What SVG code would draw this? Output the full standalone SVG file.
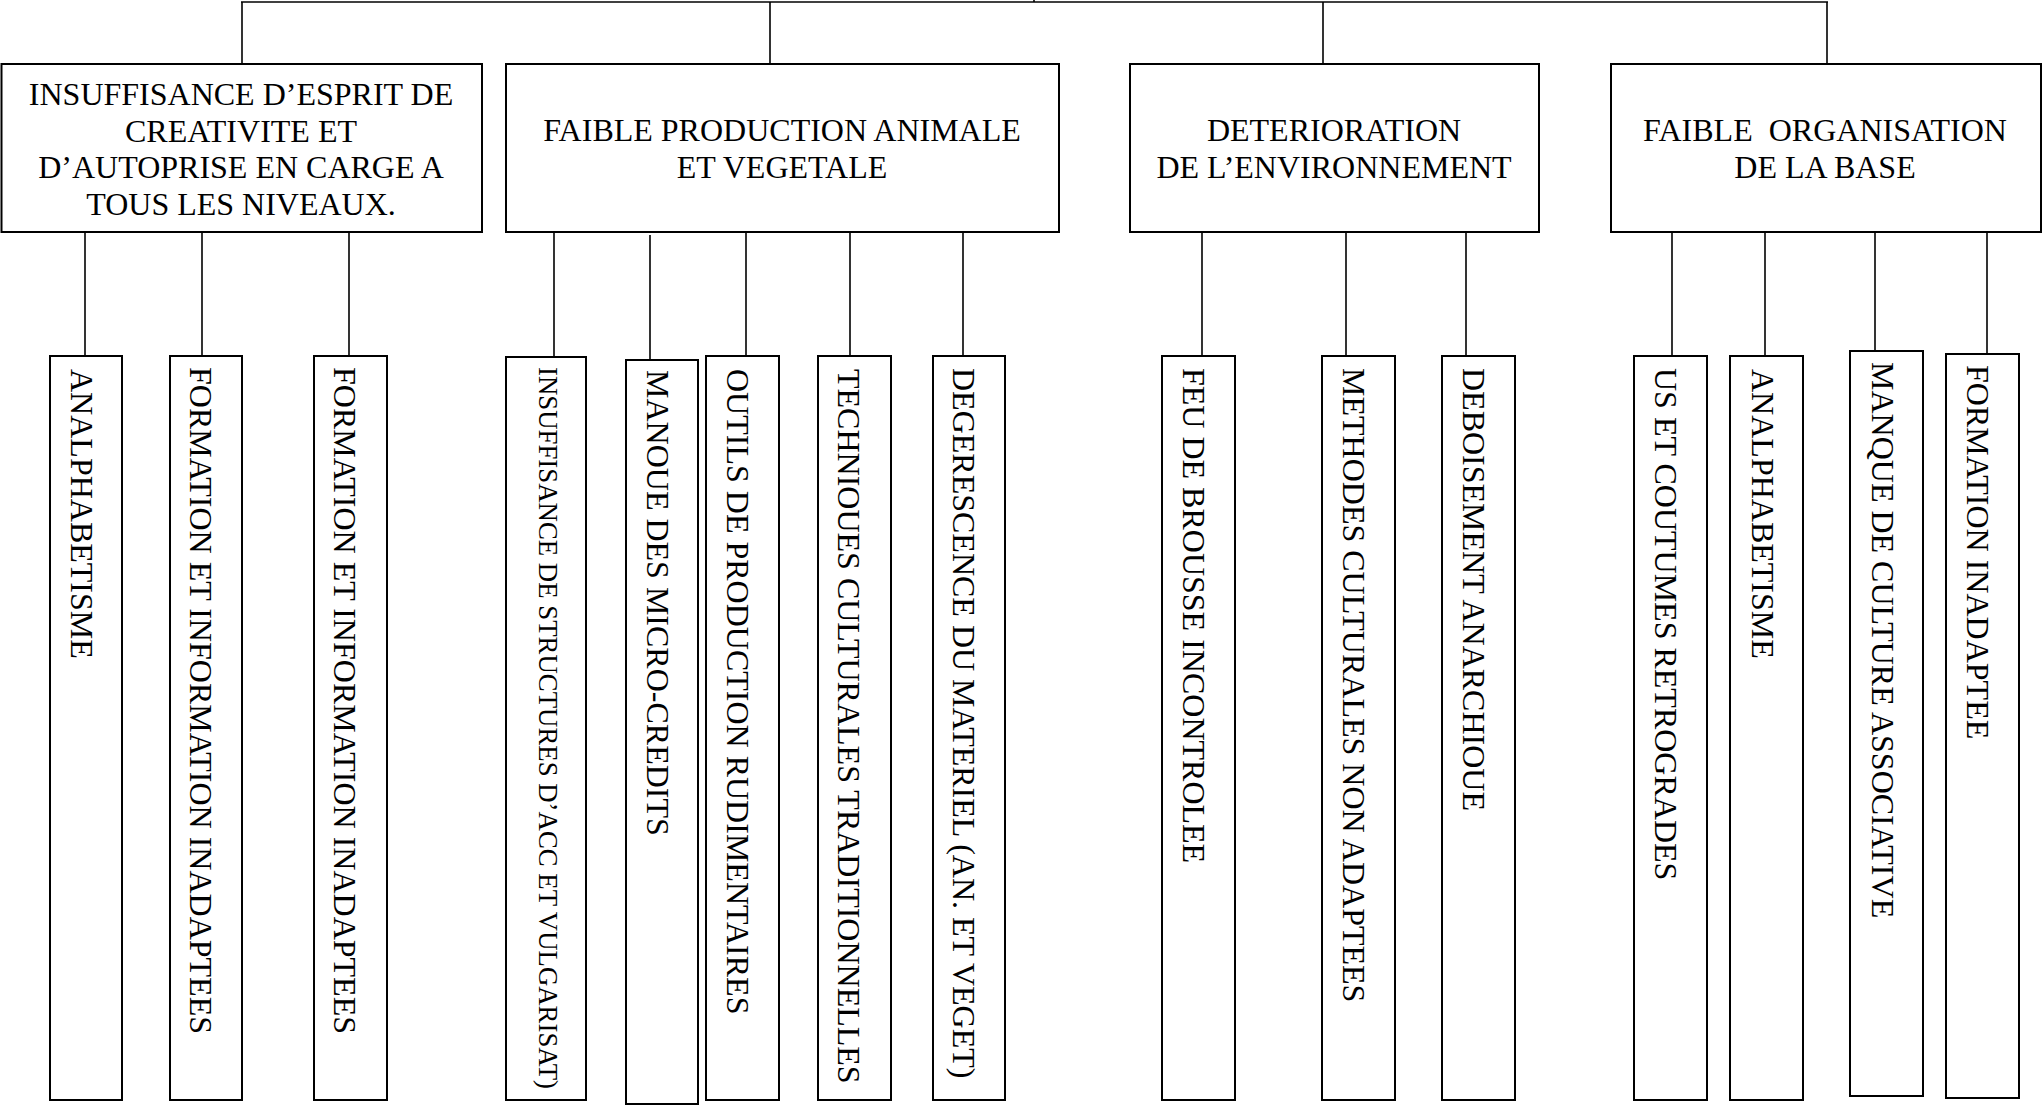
<svg xmlns="http://www.w3.org/2000/svg" width="2043" height="1105" viewBox="0 0 2043 1105">
<style>
  .box { fill: #ffffff; stroke: #000000; stroke-width: 2; }
  .conn { stroke: #000000; stroke-width: 1.6; fill: none; }
  .t { font-family: "Liberation Serif", "Times New Roman", serif; font-size: 32px; fill: #000000; }
  .c { text-anchor: middle; }
  .pre { white-space: pre; }
</style>
<rect width="2043" height="1105" fill="#ffffff"/>

<g id="connectors">
  <line class="conn" x1="1034" y1="0" x2="1034" y2="2"/>
  <line class="conn" x1="241" y1="2" x2="1828" y2="2"/>
  <line class="conn" x1="242" y1="2" x2="242" y2="64"/>
  <line class="conn" x1="770" y1="2" x2="770" y2="64"/>
  <line class="conn" x1="1323" y1="2" x2="1323" y2="64"/>
  <line class="conn" x1="1827" y1="2" x2="1827" y2="64"/>

  <line class="conn" x1="85" y1="232" x2="85" y2="356"/>
  <line class="conn" x1="202" y1="232" x2="202" y2="356"/>
  <line class="conn" x1="349" y1="232" x2="349" y2="356"/>

  <line class="conn" x1="554" y1="232" x2="554" y2="357"/>
  <line class="conn" x1="650" y1="235" x2="650" y2="360"/>
  <line class="conn" x1="746" y1="232" x2="746" y2="356"/>
  <line class="conn" x1="850" y1="232" x2="850" y2="356"/>
  <line class="conn" x1="963" y1="232" x2="963" y2="356"/>

  <line class="conn" x1="1202" y1="232" x2="1202" y2="356"/>
  <line class="conn" x1="1346" y1="232" x2="1346" y2="356"/>
  <line class="conn" x1="1466" y1="232" x2="1466" y2="356"/>

  <line class="conn" x1="1672" y1="232" x2="1672" y2="356"/>
  <line class="conn" x1="1765" y1="232" x2="1765" y2="356"/>
  <line class="conn" x1="1875" y1="232" x2="1875" y2="351"/>
  <line class="conn" x1="1987" y1="232" x2="1987" y2="354"/>
</g>

<g id="n1">
  <rect class="box" x="1.5" y="64" width="480.5" height="168"/>
  <text class="t c" x="241" y="105">INSUFFISANCE D’ESPRIT DE</text>
  <text class="t c" x="241" y="142">CREATIVITE ET</text>
  <text class="t c" x="241" y="178">D’AUTOPRISE EN CARGE A</text>
  <text class="t c" x="241" y="215">TOUS LES NIVEAUX.</text>
</g>
<g id="n2">
  <rect class="box" x="506" y="64" width="553" height="168"/>
  <text class="t c" x="782" y="141">FAIBLE PRODUCTION ANIMALE</text>
  <text class="t c" x="782" y="178">ET VEGETALE</text>
</g>
<g id="n3">
  <rect class="box" x="1130" y="64" width="409" height="168"/>
  <text class="t c" x="1334" y="141">DETERIORATION</text>
  <text class="t c" x="1334" y="178">DE L’ENVIRONNEMENT</text>
</g>
<g id="n4">
  <rect class="box" x="1611" y="64" width="430" height="168"/>
  <text class="t c pre" x="1825" y="141">FAIBLE  ORGANISATION</text>
  <text class="t c" x="1825" y="178">DE LA BASE</text>
</g>

<g id="c1">
  <rect class="box" x="50" y="356" width="72" height="744"/>
  <text class="t" x="71" y="369" transform="rotate(90 71 369)">ANALPHABETISME</text>
</g>
<g id="c2">
  <rect class="box" x="170" y="356" width="72" height="744"/>
  <text class="t" x="190" y="367" transform="rotate(90 190 367)">FORMATION ET INFORMATION INADAPTEES</text>
</g>
<g id="c3">
  <rect class="box" x="314" y="356" width="73" height="744"/>
  <text class="t" x="334" y="367" transform="rotate(90 334 367)">FORMATION ET INFORMATION INADAPTEES</text>
</g>

<g id="c4">
  <rect class="box" x="506" y="357" width="80" height="743"/>
  <text class="t" style="font-size:27px" x="539" y="367" textLength="722" lengthAdjust="spacingAndGlyphs" transform="rotate(90 539 367)">INSUFFISANCE DE STRUCTURES D’ACC ET VULGARISAT)</text>
</g>
<g id="c5">
  <rect class="box" x="626" y="360" width="72" height="744"/>
  <text class="t" x="647" y="370" transform="rotate(90 647 370)">MANOUE DES MICRO-CREDITS</text>
</g>
<g id="c6">
  <rect class="box" x="706" y="356" width="73" height="744"/>
  <text class="t" x="727" y="369" transform="rotate(90 727 369)">OUTILS DE PRODUCTION RUDIMENTAIRES</text>
</g>
<g id="c7">
  <rect class="box" x="818" y="356" width="73" height="744"/>
  <text class="t" x="838" y="369" transform="rotate(90 838 369)">TECHNIOUES CULTURALES TRADITIONNELLES</text>
</g>
<g id="c8">
  <rect class="box" x="933" y="356" width="72" height="744"/>
  <text class="t" x="953" y="368" transform="rotate(90 953 368)">DEGERESCENCE DU MATERIEL (AN. ET VEGET)</text>
</g>

<g id="c9">
  <rect class="box" x="1162" y="356" width="73" height="744"/>
  <text class="t" x="1183" y="368" transform="rotate(90 1183 368)">FEU DE BROUSSE INCONTROLEE</text>
</g>
<g id="c10">
  <rect class="box" x="1322" y="356" width="73" height="744"/>
  <text class="t" x="1343" y="368" transform="rotate(90 1343 368)">METHODES CULTURALES NON ADAPTEES</text>
</g>
<g id="c11">
  <rect class="box" x="1442" y="356" width="73" height="744"/>
  <text class="t" x="1463" y="368" transform="rotate(90 1463 368)">DEBOISEMENT ANARCHIOUE</text>
</g>

<g id="c12">
  <rect class="box" x="1634" y="356" width="73" height="744"/>
  <text class="t" x="1655" y="368" transform="rotate(90 1655 368)">US ET COUTUMES RETROGRADES</text>
</g>
<g id="c13">
  <rect class="box" x="1730" y="356" width="73" height="744"/>
  <text class="t" x="1752" y="369" transform="rotate(90 1752 369)">ANALPHABETISME</text>
</g>
<g id="c14">
  <rect class="box" x="1850" y="351" width="73" height="745"/>
  <text class="t" x="1872" y="362" transform="rotate(90 1872 362)">MANQUE DE CULTURE ASSOCIATIVE</text>
</g>
<g id="c15">
  <rect class="box" x="1946" y="354" width="73" height="744"/>
  <text class="t" x="1967" y="365" transform="rotate(90 1967 365)">FORMATION INADAPTEE</text>
</g>
</svg>
